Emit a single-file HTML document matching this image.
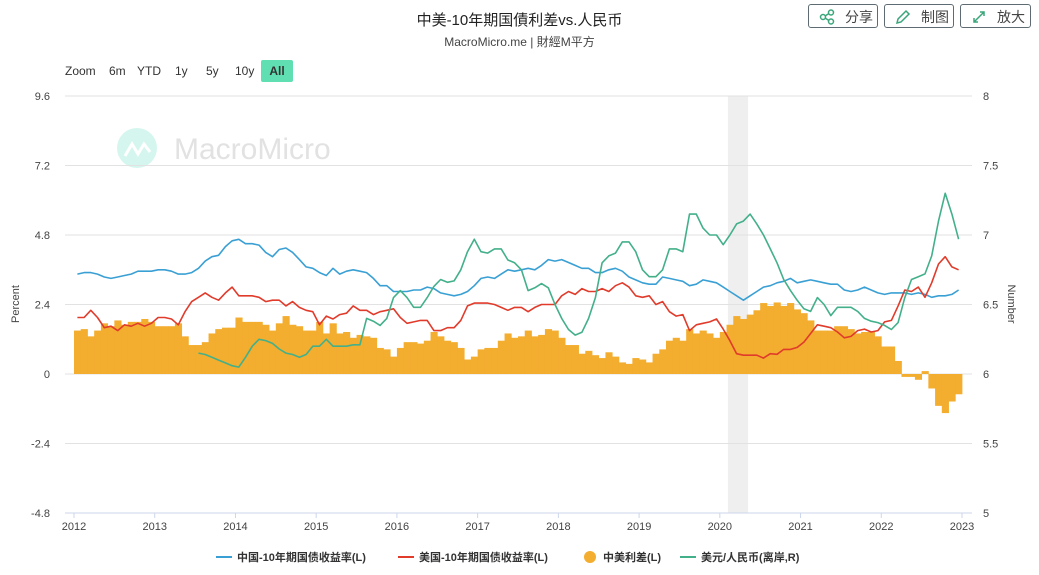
<!DOCTYPE html>
<html><head><meta charset="utf-8">
<style>
body{margin:0;background:#fff;font-family:"Liberation Sans","Noto Sans CJK SC",sans-serif;}
#wrap{position:relative;width:1039px;height:575px;overflow:hidden;}
.btn{position:absolute;top:4px;height:24px;border:1px solid #5f6b73;border-radius:3px;font-size:14px;color:#444;line-height:24px;box-sizing:border-box;padding-left:36px;}
.btn svg{position:absolute;left:10px;top:4px;}
</style></head><body>
<div id="wrap">
<div style="position:absolute;left:0;width:1039px;top:9px;text-align:center;font-size:15px;color:#222;">中美-10年期国債利差vs.人民币</div>
<div style="position:absolute;left:0;width:1039px;top:33px;text-align:center;font-size:12px;color:#444;">MacroMicro.me | 財經M平方</div>
<div class="btn" style="left:808px;width:70px;"><svg width="16" height="16"><circle cx="4" cy="8" r="2.5" fill="none" stroke="#3aa57a" stroke-width="1.5"/><circle cx="12" cy="3.5" r="2.5" fill="none" stroke="#3aa57a" stroke-width="1.5"/><circle cx="12" cy="12.5" r="2.5" fill="none" stroke="#3aa57a" stroke-width="1.5"/><path d="M6 7L10 4.5M6 9L10 11.5" stroke="#3aa57a" stroke-width="1.5"/></svg>分享</div>
<div class="btn" style="left:884px;width:70px;"><svg width="16" height="16"><path d="M2 14L3 10L11 2L14 5L6 13Z" fill="none" stroke="#3aa57a" stroke-width="1.5"/></svg>制图</div>
<div class="btn" style="left:960px;width:71px;"><svg width="16" height="16"><path d="M3 13L13 3M9 3H13V7M3 9V13H7" fill="none" stroke="#3aa57a" stroke-width="1.5"/></svg>放大</div>
<div style="position:absolute;left:65px;top:64px;font-size:12px;color:#333;">
<span>Zoom</span>
<span style="position:absolute;left:44px;">6m</span>
<span style="position:absolute;left:72px;">YTD</span>
<span style="position:absolute;left:110px;">1y</span>
<span style="position:absolute;left:141px;">5y</span>
<span style="position:absolute;left:170px;">10y</span>
<span style="position:absolute;left:196px;top:-4px;width:32px;height:22px;line-height:22px;text-align:center;background:#5fdfb2;border-radius:2px;font-weight:bold;">All</span>
</div>
<svg id="chart" width="1039" height="575" style="position:absolute;left:0;top:0;"></svg>
</div>
<script>
const leftTicks=[9.6,7.2,4.8,2.4,0,-2.4,-4.8];
const rightTicks=[8,7.5,7,6.5,6,5.5,5];
const yearLabels=[2012,2013,2014,2015,2016,2017,2018,2019,2020,2021,2022,2023];
const chinaYield=[3.45,3.5,3.5,3.45,3.35,3.3,3.35,3.4,3.45,3.55,3.55,3.55,
3.6,3.6,3.55,3.45,3.45,3.5,3.65,3.9,4.05,4.1,4.4,4.6,
4.65,4.5,4.5,4.45,4.2,4.05,4.3,4.35,4.2,3.95,3.7,3.65,
3.5,3.4,3.65,3.45,3.55,3.6,3.55,3.5,3.3,3.05,3.05,2.85,
2.85,2.85,2.9,2.9,3.0,2.95,2.8,2.75,2.7,2.75,2.85,3.05,
3.3,3.35,3.3,3.45,3.6,3.55,3.6,3.65,3.6,3.75,3.95,3.9,
3.95,3.85,3.75,3.65,3.65,3.5,3.5,3.6,3.65,3.55,3.35,3.25,
3.15,3.1,3.1,3.35,3.3,3.25,3.2,3.05,3.1,3.25,3.2,3.15,
3.0,2.85,2.7,2.55,2.7,2.85,3.0,3.05,3.15,3.2,3.3,3.15,
3.2,3.25,3.2,3.15,3.1,3.1,2.9,2.85,2.9,3.0,2.9,2.8,
2.75,2.8,2.8,2.8,2.75,2.8,2.75,2.65,2.7,2.7,2.75,2.9];
const usYield=[1.95,1.95,2.2,1.95,1.6,1.65,1.5,1.7,1.65,1.75,1.65,1.75,
1.95,1.95,1.9,1.7,2.15,2.5,2.65,2.8,2.65,2.55,2.8,3.0,
2.7,2.7,2.7,2.65,2.5,2.55,2.55,2.35,2.5,2.3,2.2,2.15,
1.7,2.0,1.9,2.05,2.1,2.35,2.2,2.2,2.05,2.15,2.2,2.25,
1.95,1.75,1.8,1.85,1.85,1.5,1.5,1.6,1.6,1.85,2.35,2.45,
2.45,2.45,2.4,2.3,2.2,2.3,2.3,2.15,2.3,2.4,2.4,2.4,
2.7,2.85,2.75,2.95,2.85,2.85,2.95,2.85,3.05,3.15,3.0,2.7,
2.65,2.7,2.4,2.5,2.15,2.0,2.05,1.5,1.7,1.75,1.8,1.9,
1.55,1.15,0.7,0.65,0.65,0.65,0.55,0.7,0.68,0.85,0.85,0.92,
1.1,1.4,1.7,1.65,1.6,1.45,1.25,1.3,1.5,1.55,1.45,1.5,
1.8,1.85,2.35,2.9,2.85,3.0,2.65,3.15,3.8,4.05,3.7,3.6];
const spread=[1.5,1.55,1.3,1.5,1.75,1.65,1.85,1.7,1.8,1.8,1.9,1.8,
1.65,1.65,1.65,1.75,1.3,1.0,1.0,1.1,1.4,1.55,1.6,1.6,
1.95,1.8,1.8,1.8,1.7,1.5,1.75,2.0,1.7,1.65,1.5,1.5,
1.8,1.4,1.75,1.4,1.45,1.25,1.35,1.3,1.25,0.9,0.85,0.6,
0.9,1.1,1.1,1.05,1.15,1.45,1.3,1.15,1.1,0.9,0.5,0.6,
0.85,0.9,0.9,1.15,1.4,1.25,1.3,1.5,1.3,1.35,1.55,1.5,
1.25,1.0,1.0,0.7,0.8,0.65,0.55,0.75,0.6,0.4,0.35,0.55,
0.5,0.4,0.7,0.85,1.15,1.25,1.15,1.55,1.4,1.5,1.4,1.25,
1.45,1.7,2.0,1.9,2.05,2.2,2.45,2.35,2.47,2.35,2.45,2.23,
2.1,1.85,1.5,1.5,1.5,1.65,1.65,1.55,1.4,1.45,1.45,1.3,
0.95,0.95,0.45,-0.1,-0.1,-0.2,0.1,-0.5,-1.1,-1.35,-0.95,-0.7];
const usdcnh=[null,null,null,null,null,null,null,null,null,null,null,null,
null,null,null,null,null,null,6.15,6.14,6.12,6.1,6.08,6.06,
6.05,6.12,6.2,6.25,6.24,6.22,6.18,6.15,6.14,6.12,6.14,6.2,
6.2,6.25,6.2,6.2,6.2,6.21,6.21,6.4,6.38,6.35,6.4,6.55,
6.6,6.55,6.48,6.48,6.55,6.63,6.68,6.66,6.67,6.75,6.88,6.97,
6.88,6.87,6.9,6.9,6.82,6.8,6.75,6.6,6.62,6.65,6.62,6.5,
6.4,6.32,6.28,6.3,6.4,6.55,6.8,6.85,6.87,6.95,6.95,6.88,
6.75,6.7,6.7,6.75,6.9,6.9,6.88,7.15,7.15,7.05,7.0,7.0,
6.93,7.0,7.08,7.1,7.15,7.08,7.0,6.9,6.8,6.68,6.6,6.53,
6.47,6.45,6.55,6.5,6.42,6.48,6.48,6.48,6.45,6.4,6.38,6.37,
6.35,6.32,6.37,6.55,6.68,6.7,6.72,6.85,7.1,7.3,7.15,6.97];
const recession=[2020.1,2020.35];

const NS="http://www.w3.org/2000/svg";
const svg=document.getElementById('chart');
const X0=74,X1=962,T0=2012,T1=2023;
const xs=t=>X0+(t-T0)/(T1-T0)*(X1-X0);
const yL=v=>374-v/2.4*69.5;
const yR=v=>374-(v-6)*139;
const tm=i=>T0+i/12+1/24;
function el(tag,attrs,parent){const e=document.createElementNS(NS,tag);for(const k in attrs)e.setAttribute(k,attrs[k]);(parent||svg).appendChild(e);return e;}

const wm=el('g',{});


el('circle',{cx:137,cy:148,r:20,fill:'#d5f6ee'},wm);
el('path',{d:'M125 156L132 144L138 154L144 144L150 152',fill:'none',stroke:'#fff','stroke-width':3},wm);
const wt=el('text',{x:174,y:159,'font-size':30,fill:'#e2e2e2','font-family':'Liberation Sans'},wm);wt.textContent='MacroMicro';

const rb=el('rect',{x:xs(recession[0]),y:96,width:xs(recession[1])-xs(recession[0]),height:417,fill:'#efefef'});



leftTicks.forEach((v,i)=>{
  const g=el('line',{x1:65,x2:972,y1:yL(v),y2:yL(v),stroke:'#e2e2e2'});
  
  
  const t=el('text',{x:50,y:yL(v)+4,'text-anchor':'end','font-size':11,fill:'#444'});t.textContent=String(v);
  
  
  const r=el('text',{x:983,y:yR(rightTicks[i])+4,'font-size':11,fill:'#444'});r.textContent=String(rightTicks[i]);
  
  
});
const ax=el('line',{x1:65,x2:972,y1:513,y2:513,stroke:'#ccd6eb'});


yearLabels.forEach(y=>{
  el('line',{x1:xs(y),x2:xs(y),y1:513,y2:518,stroke:'#ccd6eb'});
  const t=el('text',{x:xs(y),y:530,'text-anchor':'middle','font-size':11,fill:'#444'});t.textContent=String(y);
  
  
});
const yt=el('text',{x:19,y:304,'text-anchor':'middle','font-size':11,fill:'#444',transform:'rotate(-90 19 304)'});yt.textContent='Percent';


const yt2=el('text',{x:1008,y:304,'text-anchor':'middle','font-size':11,fill:'#444',transform:'rotate(90 1008 304)'});yt2.textContent='Number';



const bw=(X1-X0)/132;
spread.forEach((v,i)=>{
  const x=xs(T0+i/12);const y0=yL(0),y1=yL(v);
  const b=el('rect',{x:x,y:Math.min(y0,y1),width:bw+0.4,height:Math.abs(y1-y0),fill:'#f3ad2f'});
  
  
});
function line(arr,yf,color,name){
  let d='';let pen=false;
  arr.forEach((v,i)=>{if(v==null){pen=false;return;}d+=(pen?'L':'M')+xs(tm(i)).toFixed(1)+' '+yf(v).toFixed(1);pen=true;});
  const p=el('path',{d:d,fill:'none',stroke:color,'stroke-width':1.6,'stroke-linejoin':'round'});
  
  
}
line(chinaYield,yL,'#3aa0d4','china-10y-line');
line(usYield,yL,'#e03b2b','us-10y-line');
line(usdcnh,yR,'#43b08a','usdcnh-line');

const lg=el('g',{});


const items=[[216,'line','#3aa0d4','中国-10年期国债收益率(L)'],[398,'line','#e03b2b','美国-10年期国债收益率(L)'],[582,'dot','#f3ad2f','中美利差(L)'],[680,'line','#43b08a','美元/人民币(离岸,R)']];
items.forEach(it=>{
  const g=el('g',{},lg);
  
  
  if(it[1]=='line')el('line',{x1:it[0],x2:it[0]+16,y1:557,y2:557,stroke:it[2],'stroke-width':2},g);
  else el('circle',{cx:it[0]+8,cy:557,r:6,fill:it[2]},g);
  const t=el('text',{x:it[0]+21,y:561,'font-size':11,'font-weight':'bold',fill:'#333'},g);t.textContent=it[3];
});
</script>
</body></html>
